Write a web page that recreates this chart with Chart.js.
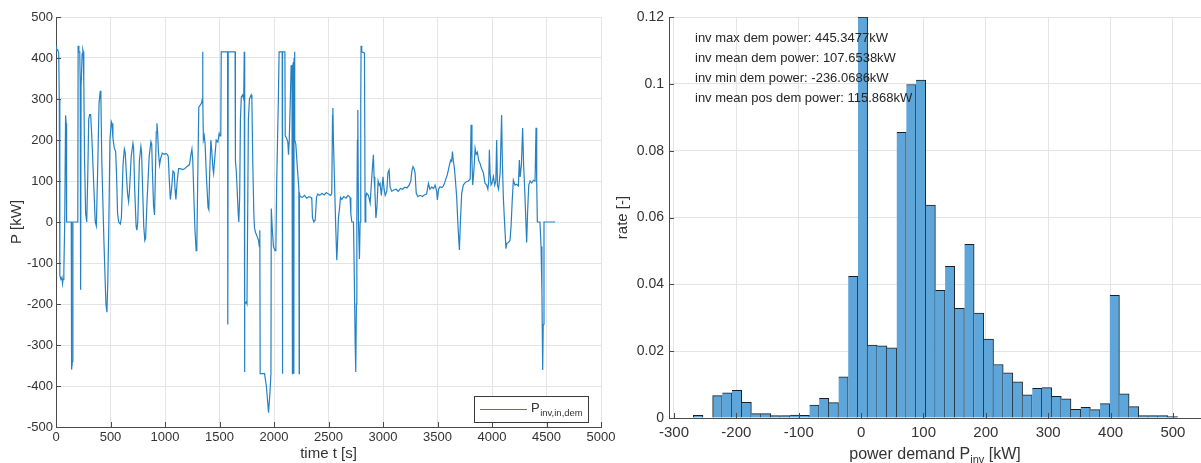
<!DOCTYPE html>
<html><head><meta charset="utf-8">
<script src="https://cdn.jsdelivr.net/npm/chart.js@4.4.1/dist/chart.umd.min.js"></script>
<style>
html,body{margin:0;padding:0;background:#fff;width:1201px;height:463px;overflow:hidden;}
canvas{position:absolute;top:0;}
#c1{left:0;}
#c2{left:610px;}
</style></head><body>
<canvas id="c1" width="625" height="463"></canvas>
<canvas id="c2" width="591" height="463"></canvas>
<script>
// ---- left: inverter power demand over time ----
const timeS = [
  0,5,15,25,30,35,45,55,60,65,
  72,80,88,93,97,140,143,150,155,200,
  203,210,218,222,226,230,240,246,250,255,
  262,272,282,292,300,308,318,330,345,360,
  370,380,395,406,412,420,440,458,467,475,
  485,495,507,514,522,535,547,555,565,575,
  590,600,615,627,635,645,656,666,675,690,
  706,712,722,735,742,750,765,779,785,795,
  805,815,822,835,855,871,878,885,895,904,
  912,920,926,932,940,950,960,975,995,1010,
  1020,1030,1040,1049,1060,1073,1085,1092,1100,1112,
  1125,1140,1160,1180,1200,1225,1235,1247,1255,1265,
  1275,1286,1292,1300,1310,1323,1335,1342,1345,1348,
  1352,1360,1368,1380,1395,1402,1410,1421,1430,1440,
  1446,1455,1470,1485,1497,1505,1512,1516,1540,1574,
  1576,1580,1600,1643,1646,1655,1665,1672,1677,1685,
  1692,1700,1712,1722,1727,1729,1733,1745,1752,1758,
  1765,1775,1790,1797,1805,1815,1821,1830,1845,1858,
  1866,1870,1873,1913,1930,1950,1962,1972,1975,1985,
  1995,2010,2017,2025,2040,2047,2075,2077,2080,2100,
  2103,2115,2127,2133,2140,2150,2157,2165,2169,2171,
  2178,2182,2184,2188,2192,2200,2215,2228,2231,2233,
  2240,2260,2280,2300,2320,2340,2347,2353,2365,2378,
  2390,2400,2420,2440,2460,2480,2500,2520,2530,2537,
  2540,2545,2555,2565,2576,2583,2591,2600,2610,2622,
  2640,2660,2680,2698,2705,2714,2729,2735,2745,2750,
  2756,2760,2765,2769,2775,2784,2790,2796,2799,2805,
  2830,2836,2842,2850,2866,2875,2882,2895,2905,2912,
  2918,2925,2935,2945,2955,2965,2973,2985,3000,3010,
  3020,3035,3045,3056,3065,3080,3100,3120,3140,3160,
  3180,3200,3220,3240,3255,3265,3275,3285,3294,3305,
  3320,3340,3360,3380,3400,3417,3430,3447,3465,3478,
  3493,3499,3510,3523,3540,3554,3565,3579,3590,3600,
  3610,3621,3630,3637,3645,3655,3665,3676,3690,3701,
  3710,3722,3737,3750,3765,3783,3800,3808,3816,3823,
  3835,3845,3855,3866,3878,3890,3905,3921,3935,3951,
  3962,3970,3976,3982,3991,4000,4013,4025,4035,4043,
  4050,4060,4075,4088,4095,4104,4115,4128,4135,4150,
  4165,4175,4185,4196,4211,4225,4242,4251,4258,4270,
  4281,4290,4300,4318,4326,4337,4350,4365,4380,4395,
  4404,4410,4416,4440,4450,4458,4465,4470,4477,4578
];
const powerKW = [
  430,418,420,412,300,-130,-140,-135,-150,-140,
  -120,0,260,240,0,0,-360,-340,0,0,
  430,415,415,340,-165,330,410,420,415,340,
  150,20,0,120,250,262,262,200,100,0,
  -10,100,290,320,300,150,-50,-200,-220,-150,
  0,200,245,240,205,180,172,120,20,0,
  -5,10,140,178,170,120,70,50,80,160,
  192,180,80,-10,-20,0,150,184,170,80,
  -10,-45,-40,50,160,196,190,120,40,17,
  120,220,241,220,170,139,155,168,165,167,
  165,160,100,55,80,124,120,80,55,100,
  130,130,128,130,135,140,160,178,150,60,
  -20,-70,-60,100,280,285,290,300,415,300,
  200,210,190,110,35,30,120,200,170,130,
  119,150,200,195,216,210,220,415,415,415,
  -250,415,415,415,150,120,60,20,0,60,
  250,305,310,300,415,-366,-200,-195,-200,0,
  250,300,310,300,150,20,-15,-25,-35,-45,
  -60,-20,-370,-370,-400,-465,-420,-370,33,-20,
  -60,-70,-65,100,300,415,415,-370,415,415,
  210,205,195,164,200,300,380,383,-370,380,
  390,-370,400,415,200,190,130,80,-370,70,
  62,60,65,58,62,60,55,10,0,5,
  60,68,65,70,66,72,68,65,70,260,
  278,200,100,0,-93,-50,10,30,60,55,
  62,58,65,60,20,0,0,-100,-300,-366,
  -200,0,200,273,0,-90,0,300,430,415,
  412,0,60,70,65,55,46,100,140,164,
  110,80,10,40,100,90,94,65,110,80,
  65,75,120,127,85,75,78,80,75,82,
  80,85,83,90,100,125,135,130,120,70,
  62,65,62,66,68,94,80,85,82,90,
  74,54,80,86,84,88,95,107,115,127,
  140,151,148,172,150,131,100,60,-20,-68,
  0,70,90,95,98,100,105,237,150,90,
  130,180,165,170,150,143,130,120,95,90,
  80,100,176,120,90,95,111,90,100,200,
  90,80,120,261,150,60,0,-65,-52,-50,
  -45,-10,50,102,90,92,88,151,110,140,
  229,140,80,-50,20,90,100,95,102,100,
  230,100,0,0,-60,-170,-361,-250,0,0
];
const timeTicks = [0,500,1000,1500,2000,2500,3000,3500,4000,4500,5000];
const powerTicks = [-500,-400,-300,-200,-100,0,100,200,300,400,500];

// ---- right: histogram of power demand ----
const binStartKW = -269.1;
const binWidthKW = 15.53;
const rateValues = [
  0.0008,0,0.0067,0.0075,0.0083,0.0047,0.0013,0.0013,0.0007,0.0007,
  0.0009,0.0008,0.0039,0.0059,0.0046,0.0123,0.0424,0.1200,0.0218,0.0216,
  0.0210,0.0855,0.0998,0.1011,0.0637,0.0382,0.0454,0.0328,0.0520,0.0314,
  0.0236,0.0160,0.0135,0.0108,0.0069,0.0089,0.0091,0.0065,0.0057,0.0026,
  0.0032,0.0025,0.0043,0.0367,0.0072,0.0034,0.0007,0.0007,0.0007,0.0004
];
const binCenters = rateValues.map((_, i) => binStartKW + (i + 0.5) * binWidthKW);
const demandTicks = [-300,-200,-100,0,100,200,300,400,500];
const rateTicks = [0,0.02,0.04,0.06,0.08,0.1,0.12];
const rateTickLabels = ['0','0.02','0.04','0.06','0.08','0.1','0.12'];
const statLines = [
  'inv max dem power: 445.3477kW',
  'inv mean dem power: 107.6538kW',
  'inv min dem power: -236.0686kW',
  'inv mean pos dem power: 115.868kW'
];

const FONT = '"Liberation Sans", Arial, Helvetica, sans-serif';
const GRID = '#e4e4e4';
const AXIS = '#4a4a4a';
const TXT = '#333333';
const LINE = '#2481c4';

const inwardTicks = {
  id: 'inwardTicks',
  afterDatasetsDraw(chart) {
    const {ctx, chartArea: a, scales} = chart;
    ctx.save();
    ctx.strokeStyle = AXIS; ctx.lineWidth = 1;
    ctx.beginPath();
    scales.x.ticks.forEach(t => {
      const px = Math.round(scales.x.getPixelForValue(t.value)) + 0.5;
      if (px < a.left - 1 || px > a.right + 1) return;
      ctx.moveTo(px, a.bottom); ctx.lineTo(px, a.bottom - 5);
    });
    scales.y.ticks.forEach(t => {
      const py = Math.round(scales.y.getPixelForValue(t.value)) + 0.5;
      ctx.moveTo(a.left, py); ctx.lineTo(a.left + 5, py);
    });
    ctx.stroke();
    ctx.restore();
  }
};

function setTicks(arr) { return s => { s.ticks = arr.map(v => ({value: v})); }; }

// left legend with subscript
const legendBox = {
  id: 'legendBox',
  afterDraw(chart) {
    const {ctx, chartArea: a} = chart;
    const bx = a.right - 127, by = a.bottom - 31, bw = 114, bh = 26;
    ctx.save();
    ctx.fillStyle = '#fff';
    ctx.fillRect(bx, by, bw, bh);
    ctx.strokeStyle = '#3a3a3a'; ctx.lineWidth = 1;
    ctx.strokeRect(bx + 0.5, by + 0.5, bw, bh);
    ctx.strokeStyle = LINE; ctx.lineWidth = 1.2;
    ctx.beginPath(); ctx.moveTo(bx + 6, by + 13.5); ctx.lineTo(bx + 53, by + 13.5); ctx.stroke();
    ctx.fillStyle = TXT; ctx.textBaseline = 'alphabetic'; ctx.textAlign = 'left';
    ctx.font = '13px ' + FONT;
    ctx.fillText('P', bx + 57, by + 16);
    const pw = ctx.measureText('P').width;
    ctx.font = '9.5px ' + FONT;
    ctx.fillText('inv,in,dem', bx + 57 + pw + 0.5, by + 20);
    ctx.restore();
  }
};

new Chart(document.getElementById('c1'), {
  type: 'line',
  data: {
    datasets: [{
      label: 'P inv,in,dem',
      data: timeS.map((t, i) => ({x: t, y: powerKW[i]})),
      borderColor: LINE,
      borderWidth: 1.2,
      pointRadius: 0,
      tension: 0,
      fill: false
    }]
  },
  options: {
    responsive: false,
    animation: false,
    events: [],
    layout: {padding: {top: 17, right: 24, left: 0, bottom: 0}},
    plugins: {legend: {display: false}, tooltip: {enabled: false}},
    scales: {
      x: {
        type: 'linear', min: 0, max: 5000,
        afterBuildTicks: setTicks(timeTicks),
        afterFit: s => { s.height = 36; s.paddingLeft = 0; s.paddingRight = 0; },
        grid: {color: GRID, drawTicks: false},
        border: {color: AXIS},
        ticks: {color: TXT, font: {family: FONT, size: 13}, padding: 3, maxRotation: 0, autoSkip: false,
          callback: v => String(v)},
        title: {display: true, text: 'time t [s]', color: TXT, font: {family: FONT, size: 15}, padding: {top: 0, bottom: 0}}
      },
      y: {
        type: 'linear', min: -500, max: 500,
        afterBuildTicks: setTicks(powerTicks),
        afterFit: s => { s.width = 56; s.paddingTop = 0; s.paddingBottom = 0; },
        grid: {color: GRID, drawTicks: false},
        border: {color: AXIS},
        ticks: {color: TXT, font: {family: FONT, size: 13}, padding: 3, autoSkip: false,
          callback: v => String(v)},
        title: {display: true, text: 'P [kW]', color: TXT, font: {family: FONT, size: 15}, padding: {top: 8, bottom: 0}}
      }
    }
  },
  plugins: [inwardTicks, legendBox]
});

// right chart annotations + x title with subscript
const histText = {
  id: 'histText',
  afterDatasetsDraw(chart) {
    const {ctx, chartArea: a} = chart;
    ctx.save();
    ctx.fillStyle = '#262626';
    ctx.font = '13px ' + FONT;
    ctx.textAlign = 'left'; ctx.textBaseline = 'middle';
    statLines.forEach((s, i) => ctx.fillText(s, a.left + 26, a.top + 21 + i * 20.2));
    const big = '16px ' + FONT, small = '11px ' + FONT;
    const p1 = 'power demand P', p2 = 'inv', p3 = ' [kW]';
    ctx.font = big; const w1 = ctx.measureText(p1).width, w3 = ctx.measureText(p3).width;
    ctx.font = small; const w2 = ctx.measureText(p2).width;
    const total = w1 + w2 + w3;
    let x = (a.left + a.right) / 2 - total / 2;
    const base = 459;
    ctx.textBaseline = 'alphabetic';
    ctx.fillStyle = TXT;
    ctx.font = big; ctx.fillText(p1, x, base); x += w1;
    ctx.font = small; ctx.fillText(p2, x, base + 4); x += w2;
    ctx.font = big; ctx.fillText(p3, x, base);
    ctx.restore();
  }
};

new Chart(document.getElementById('c2'), {
  type: 'bar',
  data: {
    datasets: [{
      label: 'rate',
      data: binCenters.map((c, i) => ({x: c, y: rateValues[i]})),
      backgroundColor: '#5ea6da',
      borderColor: '#1e1e1e',
      borderWidth: ctx => {
        const i = ctx.dataIndex;
        const leftOpen = i === 0 || rateValues[i - 1] < 1e-9;
        return {top: 1, right: 1, bottom: 0, left: leftOpen ? 1 : 0};
      },
      borderSkipped: false,
      barPercentage: 1,
      categoryPercentage: 1
    }]
  },
  options: {
    responsive: false,
    animation: false,
    events: [],
    layout: {padding: {top: 17, right: 0, left: 0, bottom: 0}},
    plugins: {legend: {display: false}, tooltip: {enabled: false}},
    scales: {
      x: {
        type: 'linear', min: -308, max: 545, offset: false,
        afterBuildTicks: setTicks(demandTicks),
        afterFit: s => { s.height = 45; s.paddingLeft = 0; s.paddingRight = 0; },
        grid: {color: GRID, drawTicks: false, offset: false},
        border: {color: AXIS},
        ticks: {color: TXT, font: {family: FONT, size: 15}, padding: 6, maxRotation: 0, autoSkip: false,
          callback: v => String(v)},
        title: {display: false}
      },
      y: {
        type: 'linear', min: 0, max: 0.12,
        afterBuildTicks: setTicks(rateTicks),
        afterFit: s => { s.width = 59; s.paddingTop = 0; s.paddingBottom = 0; },
        grid: {color: GRID, drawTicks: false},
        border: {color: AXIS},
        ticks: {color: TXT, font: {family: FONT, size: 14}, padding: 5, autoSkip: false,
          callback: (v) => { const k = rateTicks.indexOf(v); return k >= 0 ? rateTickLabels[k] : ''; }},
        title: {display: true, text: 'rate [-]', color: TXT, font: {family: FONT, size: 15}, padding: {top: 4, bottom: 0}}
      }
    }
  },
  plugins: [inwardTicks, histText]
});
</script>
</body></html>
